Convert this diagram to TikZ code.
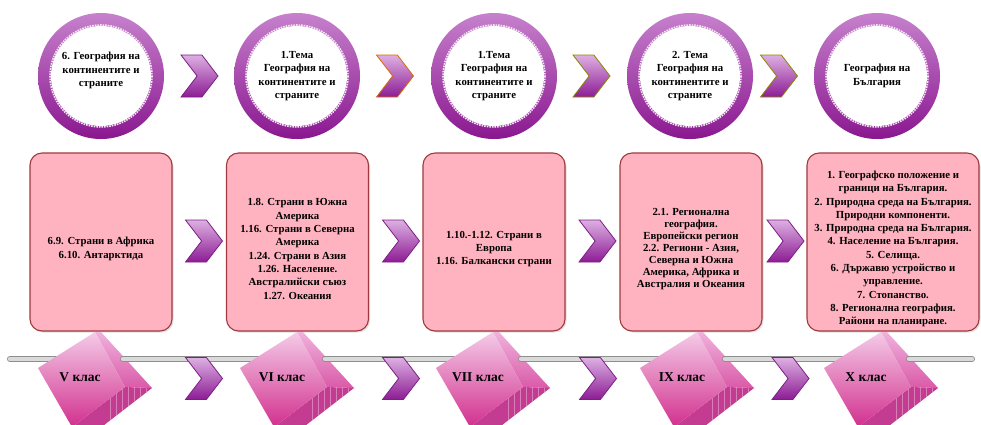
\documentclass[tikz,border=0pt]{standalone}
\usepackage{fontspec}
\setmainfont{Liberation Serif}
\usetikzlibrary{shapes.symbols,shadows}

\definecolor{ringlight}{HTML}{C681CC}
\definecolor{ringmid}{HTML}{A034A6}
\definecolor{ringdark}{HTML}{8A1790}
\definecolor{boxfill}{HTML}{FFB3C0}
\definecolor{boxedge}{HTML}{A0393E}
\definecolor{chevtop}{HTML}{DDB0E2}
\definecolor{chevbot}{HTML}{8C1C94}
\definecolor{chevedge}{HTML}{7E1D86}
\definecolor{cubetop}{HTML}{F4CBE8}
\definecolor{cubebot}{HTML}{D2308E}
\definecolor{sidetop}{HTML}{EFB2DC}
\definecolor{sidebot}{HTML}{DA5AA8}
\definecolor{cubedark}{HTML}{C43B92}
\definecolor{rodfill}{HTML}{DADADA}
\definecolor{rodedge}{HTML}{8E8E8E}

\begin{document}
\begin{tikzpicture}[x=1pt, y=-1pt,
    ring/.style={circle, fill=white, inner sep=0pt, minimum size=100pt, align=center,
                 font=\bfseries\fontsize{10.8}{13.3}\selectfont},
    topic/.style={draw=boxedge, line width=1.1pt, fill=boxfill, rounded corners=12pt,
                  minimum height=178pt,
                  drop shadow={opacity=0.25, shadow xshift=1.5pt, shadow yshift=-1.5pt}},
    topictext/.style={align=center},
    chev/.style={signal, signal to=east, signal from=west, signal pointer angle=105,
                 minimum width=37pt, minimum height=42pt, inner sep=0pt,
                 top color=chevtop, bottom color=chevbot, draw=#1, line width=0.8pt},
    chev/.default=chevedge,
    rod/.style={draw=rodedge, line width=0.8pt, double=rodfill, double distance=4.5pt, line cap=round},
    grade/.style={font=\bfseries\fontsize{13.5}{15}\selectfont}]
    \useasboundingbox (0,0) rectangle (981,424);

    \foreach \x/\txt [count=\i] in {
        101/{6. География на\\континентите и\\страните\\~},
        297/{1.Тема\\География на\\континентите и\\страните},
        494/{1.Тема\\География на\\континентите и\\страните},
        690/{2. Тема\\География на\\континентите и\\страните},
        877/{География на\\България}} {
        \shade[top color=ringlight, middle color=ringmid, bottom color=ringdark] (\x,76) circle (63);
        \node[ring] (r\i) at (\x,76) {\txt};
        \draw[white!80!ringlight, densely dotted, line width=1.6pt] (r\i) circle (51);
    }

    \foreach \x/\c [count=\i] in {199.5/chevedge, 395/orange!85!black, 591.5/olive, 779/olive}
        \node[chev=\c] (c\i) at (\x,76) {};

    \foreach \x/\w/\ls/\txt [count=\i] in {
        101/142/13.3/{6.9. Страни в Африка\\6.10. Антарктида},
        297.5/142/13.3/{1.8. Страни в Южна\\Америка\\1.16. Страни в Северна\\Америка\\1.24. Страни в Азия\\1.26. Население.\\Австралийски съюз\\1.27. Океания},
        494/142/13.3/{1.10.-1.12. Страни в\\Европа\\1.16. Балкански страни},
        691/142/12/{2.1. Регионална\\география.\\Европейски регион\\2.2. Региони - Азия,\\Северна и Южна\\Америка, Африка и\\Австралия и Океания},
        893/172/13.3/{1. Географско положение и\\граници на България.\\2. Природна среда на България.\\Природни компоненти.\\3. Природна среда на България.\\4. Население на България.\\5. Селища.\\6. Държавю устройство и\\управление.\\7. Стопанство.\\8. Регионална география.\\Райони на планиране.}} {
        \node[topic, minimum width=\w pt] (b\i) at (\x,242) {};
        \node[topictext, font=\bfseries\fontsize{10.8}{\ls}\selectfont] (t\i) at ([yshift=-7pt]b\i.center) {\txt};
    }

    \foreach \x [count=\i] in {204, 401, 597.5, 785.5}
        \node[chev] (m\i) at (\x,241) {};

    \draw[rod] (10,359) -- (80,359);
    \foreach \x/\lab/\nx [count=\i] in {80/V/282, 282/VI/478, 478/VII/682, 682/IX/866, 866/X/972} {
        \begin{scope}[shift={(\x,377)}]
            \shade[top color=sidetop, bottom color=sidebot] (15,-45) -- (21,-45) -- (72,11) -- (45,10) -- cycle;
            \begin{scope}
                \clip (45,10) -- (72,11) -- (19,52) -- (-8,50) -- cycle;
                \fill[cubedark] (-10,8) rectangle (75,55);
                \foreach \s in {30,36,...,70}
                    \draw[white, opacity=0.35, line width=0.6pt] (\s,8) -- (\s,55);
            \end{scope}
            \shade[top color=cubetop, bottom color=cubebot] (15,-45) -- (45,10) -- (-8,50) -- (-42,-9) -- cycle;
        \end{scope}
        \node[grade] (g\i) at (\x,377) {\lab\ клас};
        \draw[rod] ({\x+43},359) -- (\nx,359);
    }

    \foreach \x [count=\i] in {204, 401, 598, 790.5}
        \node[chev] (d\i) at (\x,378.5) {};
\end{tikzpicture}
\end{document}
